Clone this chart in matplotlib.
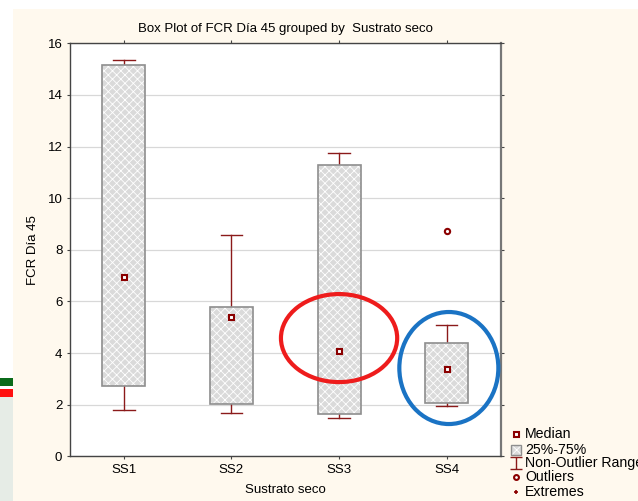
import numpy as np
import matplotlib
matplotlib.use("Agg")
import matplotlib.pyplot as plt
from matplotlib.patches import Rectangle, Ellipse
from matplotlib.lines import Line2D
from matplotlib.path import Path

plt.rcParams["font.family"] = ["Liberation Sans", "DejaVu Sans"]
plt.rcParams["hatch.linewidth"] = 0.6

# per-group summary values of FCR Día 45
groups = ["SS1", "SS2", "SS3", "SS4"]
medians = [6.95, 5.40, 4.08, 3.38]
q1 = [2.72, 2.01, 1.63, 2.05]
q3 = [15.14, 5.80, 11.28, 4.40]
whisk_lo = [1.81, 1.68, 1.47, 1.94]
whisk_hi = [15.36, 8.58, 11.76, 5.10]
outliers = [[], [], [], [8.73]]

BG = "#fff9ee"
RED = "#8b1a1a"

fig = plt.figure(figsize=(6.38, 5.01), dpi=100)
fig.patch.set_facecolor("white")
# cream backdrop and the small coloured strip on the left edge
fig.add_artist(Rectangle((13 / 638, 0), 1, 1 - 9 / 501, transform=fig.transFigure,
                         facecolor=BG, edgecolor="none", zorder=-10))
fig.add_artist(Rectangle((0, 0), 13 / 638, 1 - 397 / 501, transform=fig.transFigure,
                         facecolor="#e6ece6", edgecolor="none", zorder=-10))
fig.add_artist(Rectangle((0, 1 - 386 / 501), 13 / 638, 8 / 501, transform=fig.transFigure,
                         facecolor="#0b6b1a", edgecolor="none", zorder=-9))
fig.add_artist(Rectangle((0, 1 - 397 / 501), 13 / 638, 8 / 501, transform=fig.transFigure,
                         facecolor="#ff1010", edgecolor="none", zorder=-9))

ax = fig.add_axes([70 / 638, 44.7 / 501, 430.5 / 638, 413 / 501])
ax.set_facecolor("white")

x = np.arange(1, len(groups) + 1)
bw = 0.40
cap = 0.20

for xi, lo, hi, a, b, m, outs in zip(x, whisk_lo, whisk_hi, q1, q3, medians, outliers):
    # whiskers and caps
    ax.plot([xi, xi], [lo, a], color=RED, lw=1.0, zorder=2)
    ax.plot([xi, xi], [b, hi], color=RED, lw=1.0, zorder=2)
    ax.plot([xi - cap / 2, xi + cap / 2], [lo, lo], color=RED, lw=1.0, zorder=2)
    ax.plot([xi - cap / 2, xi + cap / 2], [hi, hi], color=RED, lw=1.0, zorder=2)
    # hatched 25%-75% box
    ax.add_patch(Rectangle((xi - bw / 2, a), bw, b - a, facecolor="#dadada",
                           edgecolor="white", hatch="xxxx", lw=0, zorder=3))
    ax.add_patch(Rectangle((xi - bw / 2, a), bw, b - a, fill=False,
                           edgecolor="#8e8e8e", lw=1.2, zorder=4))
    ax.plot(xi, m, marker="s", ms=3.6, mfc="white", mec="#8b0000", mew=1.5, zorder=5)
    for o in outs:
        ax.plot(xi, o, marker="o", ms=3.8, mfc="white", mec="#8b0000", mew=1.5, zorder=5)

# highlight rings around SS3 and SS4
ax.add_patch(Ellipse((3.0, 4.58), 1.08, 3.41, fill=False, edgecolor="#ee1c1c",
                     lw=3.0, zorder=6, clip_on=False))
ax.add_patch(Ellipse((4.02, 3.42), 0.92, 4.34, fill=False, edgecolor="#1a73c4",
                     lw=3.0, zorder=6, clip_on=False))

ax.set_xlim(0.5, 4.5)
ax.set_ylim(0, 16)
ax.set_yticks(np.arange(0, 17, 2))
ax.set_xticks(x)
ax.set_xticklabels(groups)
ax.yaxis.grid(True, color="#d8d8d8", lw=0.9)
ax.set_axisbelow(True)
ax.tick_params(axis="both", which="both", direction="out", length=2.5, width=0.8,
               labelsize=9.5, color="#444444", top=True, right=True, pad=3)
for side in ["left", "bottom", "top"]:
    ax.spines[side].set_color("#444444")
    ax.spines[side].set_linewidth(1.0)
ax.spines["right"].set_color("#777777")
ax.spines["right"].set_linewidth(1.6)

ax.set_title("Box Plot of FCR Día 45 grouped by  Sustrato seco", fontsize=9.5, pad=8)
ax.set_xlabel("Sustrato seco", fontsize=9.5, labelpad=6)
ax.set_ylabel("FCR Día 45", fontsize=9.5, labelpad=6)

# legend, drawn in figure pixels
def fx(px):
    return px / 638


def fy(py):
    return 1 - py / 501


tr = fig.transFigure
fig.add_artist(Line2D([fx(516)], [fy(434)], marker="s", ms=3.6, mfc="white",
                      mec="#8b0000", mew=1.5, transform=tr))
fig.add_artist(Rectangle((fx(511), fy(455)), 10 / 638, 10 / 501, facecolor="#dadada",
                         edgecolor="white", hatch="xxx", lw=0, transform=tr))
fig.add_artist(Rectangle((fx(511), fy(455)), 10 / 638, 10 / 501, fill=False,
                         edgecolor="#8e8e8e", lw=1.0, transform=tr))
ibar = Path([(-1, 1), (1, 1), (0, 1), (0, -1), (-1, -1), (1, -1)],
            [Path.MOVETO, Path.LINETO, Path.MOVETO, Path.LINETO, Path.MOVETO, Path.LINETO])
fig.add_artist(Line2D([fx(516)], [fy(463)], marker=ibar, ms=8, mfc="none",
                      mec=RED, mew=1.0, transform=tr))
fig.add_artist(Line2D([fx(516)], [fy(477)], marker="o", ms=3.5, mfc="white",
                      mec="#8b0000", mew=1.5, transform=tr))
fig.add_artist(Line2D([fx(516)], [fy(492)], marker="+", ms=3.5, mec="#8b0000",
                      mew=1.2, transform=tr))
for lab, py in zip(["Median", "25%-75%", "Non-Outlier Range", "Outliers", "Extremes"],
                   [434, 449.5, 463.5, 477, 492]):
    fig.text(fx(525), fy(py), lab, fontsize=10.2, va="center", ha="left")

fig.savefig("out.png", dpi=100, facecolor=fig.get_facecolor())
